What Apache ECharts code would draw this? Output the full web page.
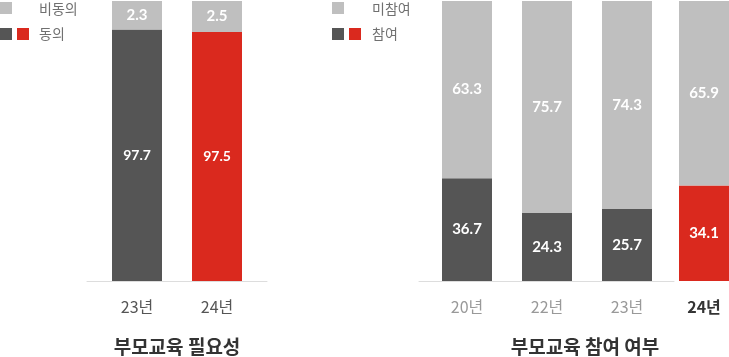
<!DOCTYPE html>
<html>
<head>
<meta charset="utf-8">
<script src="https://cdn.jsdelivr.net/npm/echarts@6/dist/echarts.min.js"></script>
<style>
html,body{margin:0;padding:0;background:#fff;}
#c{width:729px;height:357px;}
</style>
</head>
<body>
<div id="c"></div>
<script>
// ---- data ----
const needCats = ['23년', '24년'];
const needAgree = [97.7, 97.5];
const needDisagree = [2.3, 2.5];

const partCats = ['20년', '22년', '23년', '24년'];
const partYes = [36.7, 24.3, 25.7, 34.1];
const partNo = [63.3, 75.7, 74.3, 65.9];

const legendNeed = ['비동의', '동의'];
const legendPart = ['미참여', '참여'];
const titles = ['부모교육 필요성', '부모교육 참여 여부'];

// ---- styles ----
const DARK = '#555555';
const LIGHT = '#bfbfbf';
const RED = '#da291e';
const LINE = '#dddddd';
const KR = '"Noto Sans CJK KR", sans-serif';
const NUM = 'Lato, "Noto Sans CJK KR", sans-serif';

const chart = echarts.init(document.getElementById('c'), null, {renderer: 'canvas'});

function valLabel(size) {
  return {
    show: true, position: 'inside', color: '#fff',
    fontFamily: NUM, fontWeight: 'bold', fontSize: size,
    formatter: p => p.value.toFixed(1)
  };
}

const grids = [
  {left: 97, width: 160, top: 1, height: 280},   // 0 need bars
  {left: 427, width: 240, top: 1, height: 280},  // 1 participation 20-23
  {left: 679, width: 50, top: 1, height: 280},   // 2 participation 24
  {left: 87, width: 180, top: 1, height: 280},   // 3 axis line left
  {left: 419, width: 255, top: 1, height: 280}   // 4 axis line right
];

const hidY = (i, min) => ({gridIndex: i, type: 'value', min: min, max: 100, show: false});

const catAxis = (i, data, color, weight) => ({
  gridIndex: i, type: 'category', data: data,
  axisLine: {show: false}, axisTick: {show: false},
  axisLabel: {margin: 18, color: color, fontSize: 16, fontWeight: weight, fontFamily: KR}
});

const lineAxis = (i) => ({
  gridIndex: i, type: 'category', data: [''], position: 'bottom',
  axisLine: {show: true, onZero: false, lineStyle: {color: LINE, width: 1}},
  axisTick: {show: false}, axisLabel: {show: false}, splitLine: {show: false}
});

const option = {
  animation: false,
  grid: grids,
  xAxis: [
    catAxis(0, needCats, '#555', 'normal'),
    catAxis(1, partCats.slice(0, 3), '#999', 'normal'),
    catAxis(2, partCats.slice(3), '#333', 'bold'),
    lineAxis(3),
    lineAxis(4)
  ],
  yAxis: [hidY(0, 77.5), hidY(1, 0), hidY(2, 0), hidY(3, 0), hidY(4, 0)],
  series: [
    // empty carriers so the baseline axes are laid out
    {type: 'bar', xAxisIndex: 3, yAxisIndex: 3, data: [null], silent: true, z: 1},
    {type: 'bar', xAxisIndex: 4, yAxisIndex: 4, data: [null], silent: true, z: 1},
    {
      name: legendNeed[1], type: 'bar', stack: 'need', xAxisIndex: 0, yAxisIndex: 0,
      barWidth: 50, data: needAgree, z: 3,
      itemStyle: {color: p => p.dataIndex === needCats.length - 1 ? RED : DARK},
      label: valLabel(14)
    },
    {
      name: legendNeed[0], type: 'bar', stack: 'need', xAxisIndex: 0, yAxisIndex: 0,
      barWidth: 50, data: needDisagree, z: 3,
      itemStyle: {color: LIGHT},
      label: valLabel(15)
    },
    {
      name: legendPart[1], type: 'bar', stack: 'part', xAxisIndex: 1, yAxisIndex: 1,
      barWidth: 50, data: partYes.slice(0, 3), z: 3,
      itemStyle: {color: DARK},
      label: valLabel(15)
    },
    {
      name: legendPart[0], type: 'bar', stack: 'part', xAxisIndex: 1, yAxisIndex: 1,
      barWidth: 50, data: partNo.slice(0, 3), z: 3,
      itemStyle: {color: LIGHT},
      label: valLabel(15)
    },
    {
      name: legendPart[1], type: 'bar', stack: 'part24', xAxisIndex: 2, yAxisIndex: 2,
      barWidth: 50, data: partYes.slice(3), z: 3,
      itemStyle: {color: RED},
      label: valLabel(15)
    },
    {
      name: legendPart[0], type: 'bar', stack: 'part24', xAxisIndex: 2, yAxisIndex: 2,
      barWidth: 50, data: partNo.slice(3), z: 3,
      itemStyle: {color: LIGHT},
      label: valLabel(15)
    }
  ],
  graphic: [
    // left legend
    {type: 'rect', shape: {x: 0, y: 2, width: 12, height: 12}, style: {fill: LIGHT}},
    {type: 'rect', shape: {x: 0, y: 28, width: 12, height: 12}, style: {fill: DARK}},
    {type: 'rect', shape: {x: 17, y: 28, width: 12, height: 12}, style: {fill: RED}},
    {type: 'text', x: 39, y: 8.5, style: {text: legendNeed[0], fill: '#707070', font: '14px ' + KR, verticalAlign: 'middle'}},
    {type: 'text', x: 39, y: 34, style: {text: legendNeed[1], fill: '#707070', font: '14px ' + KR, verticalAlign: 'middle'}},
    // right legend
    {type: 'rect', shape: {x: 332, y: 2, width: 12, height: 12}, style: {fill: LIGHT}},
    {type: 'rect', shape: {x: 332, y: 28, width: 12, height: 12}, style: {fill: DARK}},
    {type: 'rect', shape: {x: 349, y: 28, width: 12, height: 12}, style: {fill: RED}},
    {type: 'text', x: 372, y: 8.5, style: {text: legendPart[0], fill: '#707070', font: '14px ' + KR, verticalAlign: 'middle'}},
    {type: 'text', x: 372, y: 34, style: {text: legendPart[1], fill: '#707070', font: '14px ' + KR, verticalAlign: 'middle'}},
    // titles
    {type: 'text', x: 177, y: 347, style: {text: titles[0], fill: '#333', font: 'bold 19px ' + KR, align: 'center', verticalAlign: 'middle'}},
    {type: 'text', x: 585, y: 347, style: {text: titles[1], fill: '#333', font: 'bold 19px ' + KR, align: 'center', verticalAlign: 'middle'}}
  ]
};

chart.setOption(option);
</script>
</body>
</html>
